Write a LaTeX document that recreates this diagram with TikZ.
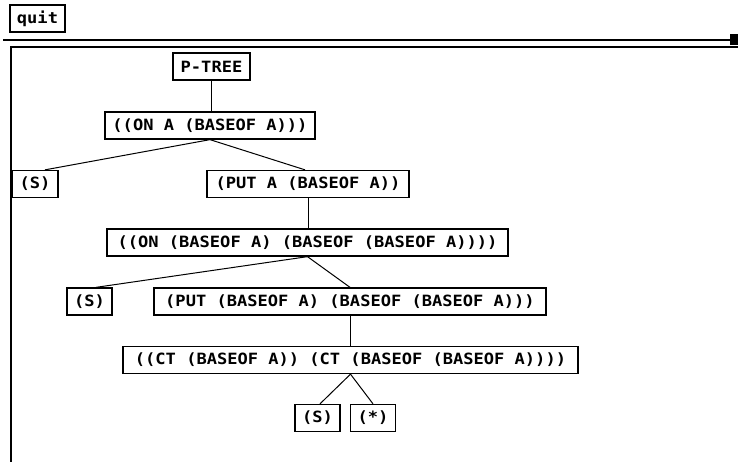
\documentclass[tikz,border=0pt]{standalone}
\usepackage{fontspec}
\newfontfamily\lispfont[FakeStretch=1.1]{DejaVu Sans Mono}
\begin{document}
\begin{tikzpicture}[x=1pt,y=-1pt,
  box/.style={draw, line width=1.3pt, inner sep=0pt, minimum height=27pt,
    font=\lispfont\bfseries\fontsize{15.5}{15.5}\selectfont},
  link/.style={line width=1pt},
  frame/.style={line width=2pt}]
\useasboundingbox (0,0) rectangle (738,462);
% window chrome
\draw[frame] (3,40) -- (730,40);
\fill (730,34) rectangle (738,45);
\draw[frame] (10.5,462) -- (10.5,47.5) -- (738,47.5);
% nodes
\node[box, minimum width=55pt]  (quit)  at (37.5,18.5) {quit};
\node[box, minimum width=77pt]  (ptree) at (211.5,66.5) {P-TREE};
\node[box, minimum width=210pt] (on1)   at (210,125.5) {((ON A (BASEOF A)))};
\node[box, minimum width=46pt]  (s1)    at (35,184) {(S)};
\node[box, minimum width=202pt] (put1)  at (308,184) {(PUT A (BASEOF A))};
\node[box, minimum width=401pt] (on2)   at (307.5,242.5) {((ON (BASEOF A) (BASEOF (BASEOF A))))};
\node[box, minimum width=45pt]  (s2)    at (89.5,301.5) {(S)};
\node[box, minimum width=392pt] (put2)  at (350,301.5) {(PUT (BASEOF A) (BASEOF (BASEOF A)))};
\node[box, minimum width=455pt] (ct)    at (350.5,360) {((CT (BASEOF A)) (CT (BASEOF (BASEOF A))))};
\node[box, minimum width=45pt]  (s3)    at (317.5,418) {(S)};
\node[box, minimum width=45pt]  (star)  at (373,418) {(*)};
% connectors
\draw[link] (ptree.south) -- (ptree.south |- on1.north);
\draw[link] (on1.south) -- ([xshift=10pt]s1.north);
\draw[link] (on1.south) -- ([xshift=-3pt]put1.north);
\draw[link] (put1.south) -- (put1.south |- on2.north);
\draw[link] (on2.south) -- ([xshift=6.5pt]s2.north);
\draw[link] (on2.south) -- (put2.north);
\draw[link] (put2.south) -- (put2.south |- ct.north);
\draw[link] (ct.south) -- ([xshift=2.5pt]s3.north);
\draw[link] (ct.south) -- (star.north);
\end{tikzpicture}
\end{document}
